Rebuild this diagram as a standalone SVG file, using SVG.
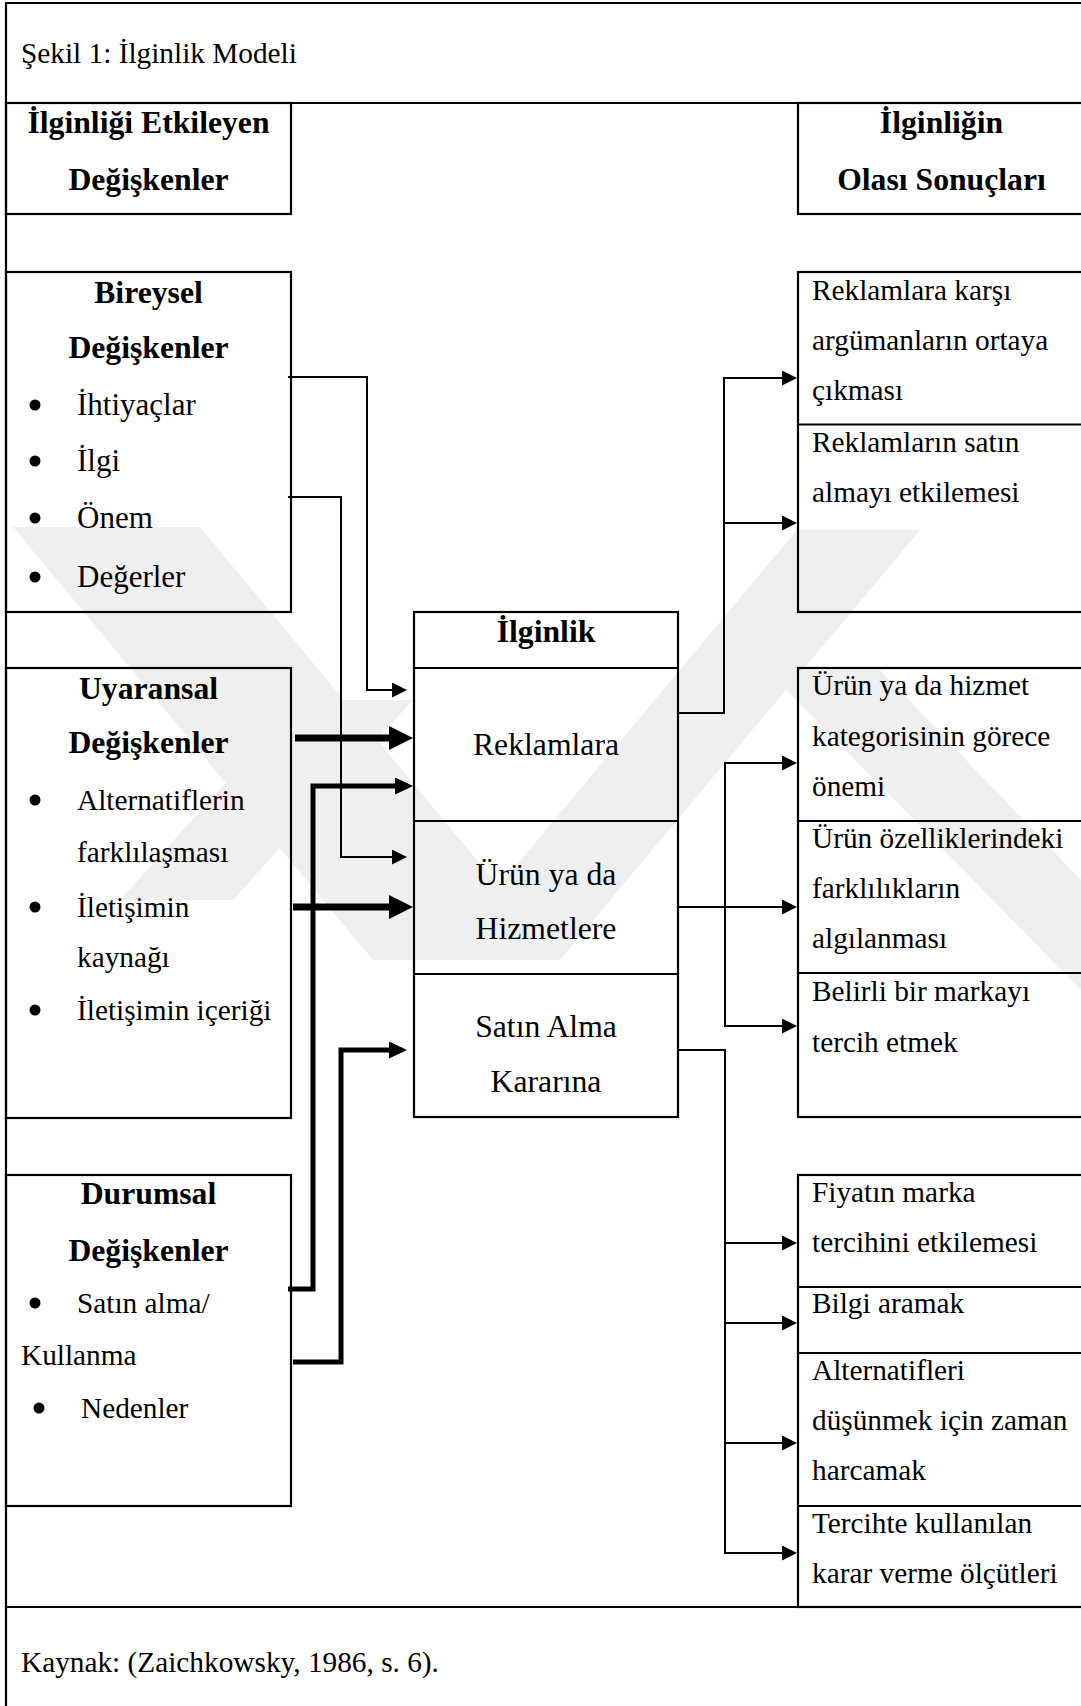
<svg xmlns="http://www.w3.org/2000/svg" width="1081" height="1706" viewBox="0 0 1081 1706">
  <style>
    .frame { fill: none; stroke: #000; stroke-width: 2.2; }
    .box { fill: none; stroke: #000; stroke-width: 2.2; }
    .t { font-family: "Liberation Serif", "Times New Roman", serif; fill: #000; }
    .r29 { font-size: 29.3px; }
    .r31 { font-size: 31px; }
    .r32 { font-size: 31.7px; }
    .b32 { font-size: 31.7px; font-weight: bold; }
    .mid { text-anchor: middle; }
    .thin { fill: none; stroke: #000; stroke-width: 2; }
    .med { fill: none; stroke: #000; stroke-width: 5; }
    .thick { fill: none; stroke: #000; stroke-width: 7; }
    .wm { fill: #efefef; }
  </style>
  <defs>
    <marker id="ah-thin" viewBox="0 0 15 15" markerWidth="15" markerHeight="15" markerUnits="userSpaceOnUse" refX="11" refY="7.5" orient="auto">
      <path d="M0,0 L15,7.5 L0,15 Z" fill="#000"/>
    </marker>
    <marker id="ah-med" viewBox="0 0 18 17" markerWidth="18" markerHeight="17" markerUnits="userSpaceOnUse" refX="13" refY="8.5" orient="auto">
      <path d="M0,0 L18,8.5 L0,17 Z" fill="#000"/>
    </marker>
    <marker id="ah-thick" viewBox="0 0 24 24" markerWidth="24" markerHeight="24" markerUnits="userSpaceOnUse" refX="16" refY="12" orient="auto">
      <path d="M0,0 L24,12 L0,24 Z" fill="#000"/>
    </marker>
  </defs>

  <rect x="0" y="0" width="1081" height="1706" fill="#fff"/>

  <!-- faint background emblem -->
  <g id="emblem">
    <polygon class="wm" points="13,527 200,527 560,960 373,960"/>
    <polygon class="wm" points="797,530 920,530 560,960 437,960"/>
    <polygon class="wm" points="767,670 880,670 1081,880 1081,990"/>
    <polygon class="wm" points="233,900 120,900 300,700 413,700"/>
  </g>

  <!-- outer frame -->
  <g id="frame">
    <path class="frame" d="M6,1706 V3 H1081"/>
    <line class="frame" x1="6" y1="103" x2="1081" y2="103"/>
    <line class="frame" x1="6" y1="1607" x2="1081" y2="1607"/>
    <text class="t r29" x="21" y="63">Şekil 1: İlginlik Modeli</text>
    <text class="t r29" x="21" y="1672">Kaynak: (Zaichkowsky, 1986, s. 6).</text>
  </g>

  <!-- column headings -->
  <g id="head-left">
    <rect class="box" x="6" y="103" width="285" height="111"/>
    <text class="t b32 mid" x="148.5" y="133">İlginliği Etkileyen</text>
    <text class="t b32 mid" x="148.5" y="190">Değişkenler</text>
  </g>
  <g id="head-right">
    <rect class="box" x="798" y="103" width="300" height="111"/>
    <text class="t b32 mid" x="941.5" y="133">İlginliğin</text>
    <text class="t b32 mid" x="941.5" y="190">Olası Sonuçları</text>
  </g>

  <!-- influencing variables -->
  <g id="bireysel">
    <rect class="box" x="6" y="272" width="285" height="340"/>
    <text class="t b32 mid" x="148.5" y="303">Bireysel</text>
    <text class="t b32 mid" x="148.5" y="358">Değişkenler</text>
    <circle cx="35" cy="405" r="5.5"/>
    <text class="t r31" x="77" y="415">İhtiyaçlar</text>
    <circle cx="35" cy="461" r="5.5"/>
    <text class="t r31" x="77" y="471">İlgi</text>
    <circle cx="35" cy="518" r="5.5"/>
    <text class="t r31" x="77" y="528">Önem</text>
    <circle cx="35" cy="577" r="5.5"/>
    <text class="t r31" x="77" y="587">Değerler</text>
  </g>

  <g id="uyaransal">
    <rect class="box" x="6" y="668" width="285" height="450"/>
    <text class="t b32 mid" x="148.5" y="699">Uyaransal</text>
    <text class="t b32 mid" x="148.5" y="753">Değişkenler</text>
    <circle cx="35" cy="800" r="5.5"/>
    <text class="t r29" x="77" y="810">Alternatiflerin</text>
    <text class="t r29" x="77" y="862">farklılaşması</text>
    <circle cx="35" cy="907" r="5.5"/>
    <text class="t r29" x="77" y="917">İletişimin</text>
    <text class="t r29" x="77" y="967">kaynağı</text>
    <circle cx="35" cy="1010" r="5.5"/>
    <text class="t r29" x="77" y="1020">İletişimin içeriği</text>
  </g>

  <g id="durumsal">
    <rect class="box" x="6" y="1175" width="285" height="331"/>
    <text class="t b32 mid" x="148.5" y="1204">Durumsal</text>
    <text class="t b32 mid" x="148.5" y="1261">Değişkenler</text>
    <circle cx="35" cy="1303" r="5.5"/>
    <text class="t r29" x="77" y="1313">Satın alma/</text>
    <text class="t r29" x="21" y="1365">Kullanma</text>
    <circle cx="39" cy="1408" r="5.5"/>
    <text class="t r29" x="81" y="1418">Nedenler</text>
  </g>

  <!-- central involvement box -->
  <g id="ilginlik">
    <rect class="box" x="414" y="612" width="264" height="505"/>
    <line class="box" x1="414" y1="668" x2="678" y2="668"/>
    <line class="box" x1="414" y1="821" x2="678" y2="821"/>
    <line class="box" x1="414" y1="974" x2="678" y2="974"/>
    <text class="t b32 mid" x="546" y="642">İlginlik</text>
    <text class="t r32 mid" x="546" y="755">Reklamlara</text>
    <text class="t r32 mid" x="546" y="885">Ürün ya da</text>
    <text class="t r32 mid" x="546" y="939">Hizmetlere</text>
    <text class="t r32 mid" x="546" y="1037">Satın Alma</text>
    <text class="t r32 mid" x="546" y="1092">Kararına</text>
  </g>

  <!-- outcomes -->
  <g id="sonuc-reklam">
    <rect class="box" x="798" y="272" width="300" height="340"/>
    <line class="box" x1="798" y1="424.5" x2="1081" y2="424.5"/>
    <text class="t r29" x="812" y="300">Reklamlara karşı</text>
    <text class="t r29" x="812" y="350">argümanların ortaya</text>
    <text class="t r29" x="812" y="400">çıkması</text>
    <text class="t r29" x="812" y="452">Reklamların satın</text>
    <text class="t r29" x="812" y="502">almayı etkilemesi</text>
  </g>

  <g id="sonuc-urun">
    <rect class="box" x="798" y="668" width="300" height="449"/>
    <line class="box" x1="798" y1="821" x2="1081" y2="821"/>
    <line class="box" x1="798" y1="973" x2="1081" y2="973"/>
    <text class="t r29" x="812" y="695">Ürün ya da hizmet</text>
    <text class="t r29" x="812" y="746">kategorisinin görece</text>
    <text class="t r29" x="812" y="796">önemi</text>
    <text class="t r29" x="812" y="848">Ürün özelliklerindeki</text>
    <text class="t r29" x="812" y="898">farklılıkların</text>
    <text class="t r29" x="812" y="948">algılanması</text>
    <text class="t r29" x="812" y="1001">Belirli bir markayı</text>
    <text class="t r29" x="812" y="1052">tercih etmek</text>
  </g>

  <g id="sonuc-satin">
    <rect class="box" x="798" y="1175" width="300" height="432"/>
    <line class="box" x1="798" y1="1287" x2="1081" y2="1287"/>
    <line class="box" x1="798" y1="1353" x2="1081" y2="1353"/>
    <line class="box" x1="798" y1="1506" x2="1081" y2="1506"/>
    <text class="t r29" x="812" y="1202">Fiyatın marka</text>
    <text class="t r29" x="812" y="1252">tercihini etkilemesi</text>
    <text class="t r29" x="812" y="1313">Bilgi aramak</text>
    <text class="t r29" x="812" y="1380">Alternatifleri</text>
    <text class="t r29" x="812" y="1430">düşünmek için zaman</text>
    <text class="t r29" x="812" y="1480">harcamak</text>
    <text class="t r29" x="812" y="1533">Tercihte kullanılan</text>
    <text class="t r29" x="812" y="1583">karar verme ölçütleri</text>
  </g>

  <!-- connectors -->
  <g id="connectors">
    <!-- individual variables -->
    <path class="thin" d="M288,377 H367 V690 H403" marker-end="url(#ah-thin)"/>
    <path class="thin" d="M288,497 H341 V857 H403" marker-end="url(#ah-thin)"/>
    <!-- stimulus variables -->
    <path class="thick" d="M295,738 H405" marker-end="url(#ah-thick)"/>
    <path class="thick" d="M293,907 H405" marker-end="url(#ah-thick)"/>
    <!-- situational variables -->
    <path class="med" d="M288,1289 H313 V786 H408" marker-end="url(#ah-med)"/>
    <path class="med" d="M293,1362 H341 V1050 H402" marker-end="url(#ah-med)"/>
    <!-- involvement with advertising -->
    <path class="thin" d="M678,713 H724 V378 H793" marker-end="url(#ah-thin)"/>
    <path class="thin" d="M724,523 H793" marker-end="url(#ah-thin)"/>
    <!-- involvement with products -->
    <path class="thin" d="M678,907 H793" marker-end="url(#ah-thin)"/>
    <path class="thin" d="M725,907 V763 H793" marker-end="url(#ah-thin)"/>
    <path class="thin" d="M725,907 V1026 H793" marker-end="url(#ah-thin)"/>
    <!-- involvement with purchase decisions -->
    <path class="thin" d="M678,1050 H725 V1553 H793" marker-end="url(#ah-thin)"/>
    <path class="thin" d="M725,1243 H793" marker-end="url(#ah-thin)"/>
    <path class="thin" d="M725,1323 H793" marker-end="url(#ah-thin)"/>
    <path class="thin" d="M725,1443 H793" marker-end="url(#ah-thin)"/>
  </g>
</svg>
